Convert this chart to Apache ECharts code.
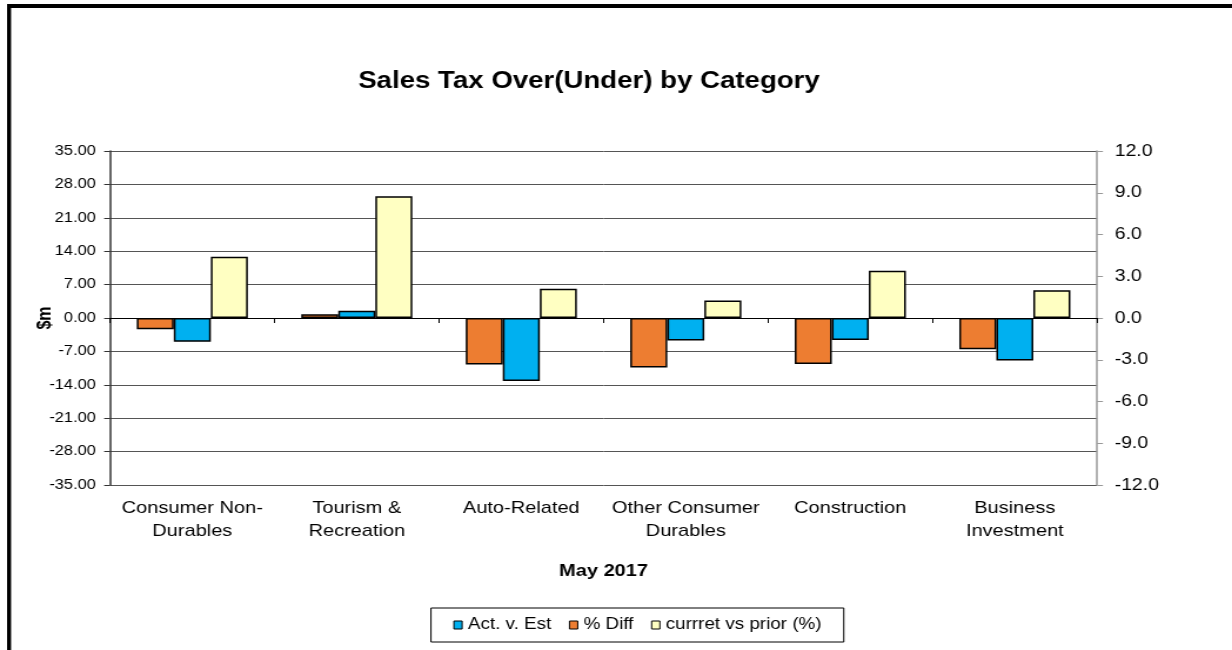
<!DOCTYPE html>
<html>
<head>
<meta charset="utf-8">
<script src="https://cdn.jsdelivr.net/npm/echarts@6/dist/echarts.min.js"></script>
<style>
html, body { margin: 0; padding: 0; background: #fff; overflow: hidden; }
/* the reference is a horizontally stretched export, so stretch the chart the same way */
#chart { width: 1048px; height: 650px; transform: scaleX(1.1756); transform-origin: 0 0; }
</style>
</head>
<body>
<div id="chart"></div>
<script>
var categories = ['Consumer Non-\nDurables', 'Tourism &\nRecreation', 'Auto-Related', 'Other Consumer\nDurables', 'Construction', 'Business\nInvestment'];
var actVsEst = [-5.0, 1.5, -13.2, -4.7, -4.6, -8.9];      // $m, left axis
var pctDiff = [-0.8, 0.27, -3.35, -3.55, -3.3, -2.25];    // right axis
var curVsPrior = [4.4, 8.75, 2.1, 1.25, 3.4, 2.0];        // right axis
var leftMin = -35, leftMax = 35, leftStep = 7;
var rightMin = -12, rightMax = 12, rightStep = 3;

var font = 'Liberation Sans, Arial, sans-serif';
var myChart = echarts.init(document.getElementById('chart'));

var option = {
    animation: false,
    textStyle: { fontFamily: font, color: '#000' },
    graphic: [
        { type: 'rect', shape: { x: 6, y: 4, width: 1050, height: 4 }, style: { fill: '#000' } },
        { type: 'rect', shape: { x: 6, y: 4, width: 3.4, height: 650 }, style: { fill: '#000' } },
        {
            type: 'text', x: 501, y: 70,
            style: {
                text: 'Sales Tax Over(Under) by Category',
                font: 'bold 23.5px ' + font,
                fill: '#000', textAlign: 'center', textVerticalAlign: 'top'
            }
        },
        {
            // $m axis title
            type: 'text', x: 38.5, y: 318, rotation: Math.PI / 2,
            style: {
                text: '$m',
                font: 'bold 16px ' + font,
                fill: '#000', textAlign: 'center', textVerticalAlign: 'middle'
            }
        }
    ],
    grid: { left: 93.6, right: 114.8, top: 151, bottom: 165 },
    legend: {
        data: ['Act. v. Est', '% Diff', 'currret vs prior (%)'],
        left: 366.6, top: 608,
        padding: [9, 19, 9, 19],
        itemGap: 15,
        itemWidth: 7, itemHeight: 8,
        icon: 'rect',
        itemStyle: { borderColor: '#000', borderWidth: 1 },
        borderColor: '#000', borderWidth: 1,
        textStyle: { fontFamily: font, fontSize: 16, color: '#000' }
    },
    xAxis: [
        {
            type: 'category',
            data: categories,
            position: 'bottom',
            name: 'May 2017',
            nameLocation: 'middle',
            nameGap: 78,
            nameTextStyle: { fontFamily: font, fontSize: 17, fontWeight: 'bold', color: '#000' },
            axisLine: { show: false, onZero: false },
            axisTick: { show: false },
            axisLabel: { fontFamily: font, fontSize: 17, lineHeight: 23, color: '#000', margin: 12, interval: 0 }
        },
        {
            type: 'category',
            data: categories,
            position: 'bottom',
            axisLine: { onZero: true, lineStyle: { color: '#000', width: 1 } },
            axisTick: { show: true, length: 5, lineStyle: { color: '#000' } },
            axisLabel: { show: false }
        }
    ],
    yAxis: [
        {
            type: 'value',
            min: leftMin, max: leftMax, interval: leftStep,
            axisLine: { show: true, lineStyle: { color: '#333', width: 1.5 } },
            axisTick: { show: true, length: 5, lineStyle: { color: '#333' } },
            axisLabel: { fontFamily: font, fontSize: 14, color: '#000', margin: 12,
                formatter: function (v) { return v.toFixed(2); } },
            splitLine: { show: true, lineStyle: { color: '#555', width: 1 } }
        },
        {
            type: 'value',
            min: rightMin, max: rightMax, interval: rightStep,
            position: 'right',
            axisLine: { show: true, lineStyle: { color: '#999', width: 1.5 } },
            axisTick: { show: true, length: 5, lineStyle: { color: '#999' } },
            axisLabel: { fontFamily: font, fontSize: 16.5, color: '#000', margin: 15,
                formatter: function (v) { return v.toFixed(1); } },
            splitLine: { show: false }
        }
    ],
    series: [
        {
            name: '% Diff', type: 'bar', xAxisIndex: 0, yAxisIndex: 1,
            data: pctDiff, barWidth: 31.5, barGap: '0%',
            itemStyle: { color: '#ED7D31', borderColor: '#000', borderWidth: 1.5 }
        },
        {
            name: 'Act. v. Est', type: 'bar', xAxisIndex: 0, yAxisIndex: 0,
            data: actVsEst, barWidth: 31.5, barGap: '0%',
            itemStyle: { color: '#00B0F0', borderColor: '#000', borderWidth: 1.5 }
        },
        {
            name: 'currret vs prior (%)', type: 'bar', xAxisIndex: 0, yAxisIndex: 1,
            data: curVsPrior, barWidth: 31.5, barGap: '0%',
            itemStyle: { color: '#FFFFC2', borderColor: '#000', borderWidth: 1.5 }
        }
    ]
};
myChart.setOption(option);
</script>
</body>
</html>
